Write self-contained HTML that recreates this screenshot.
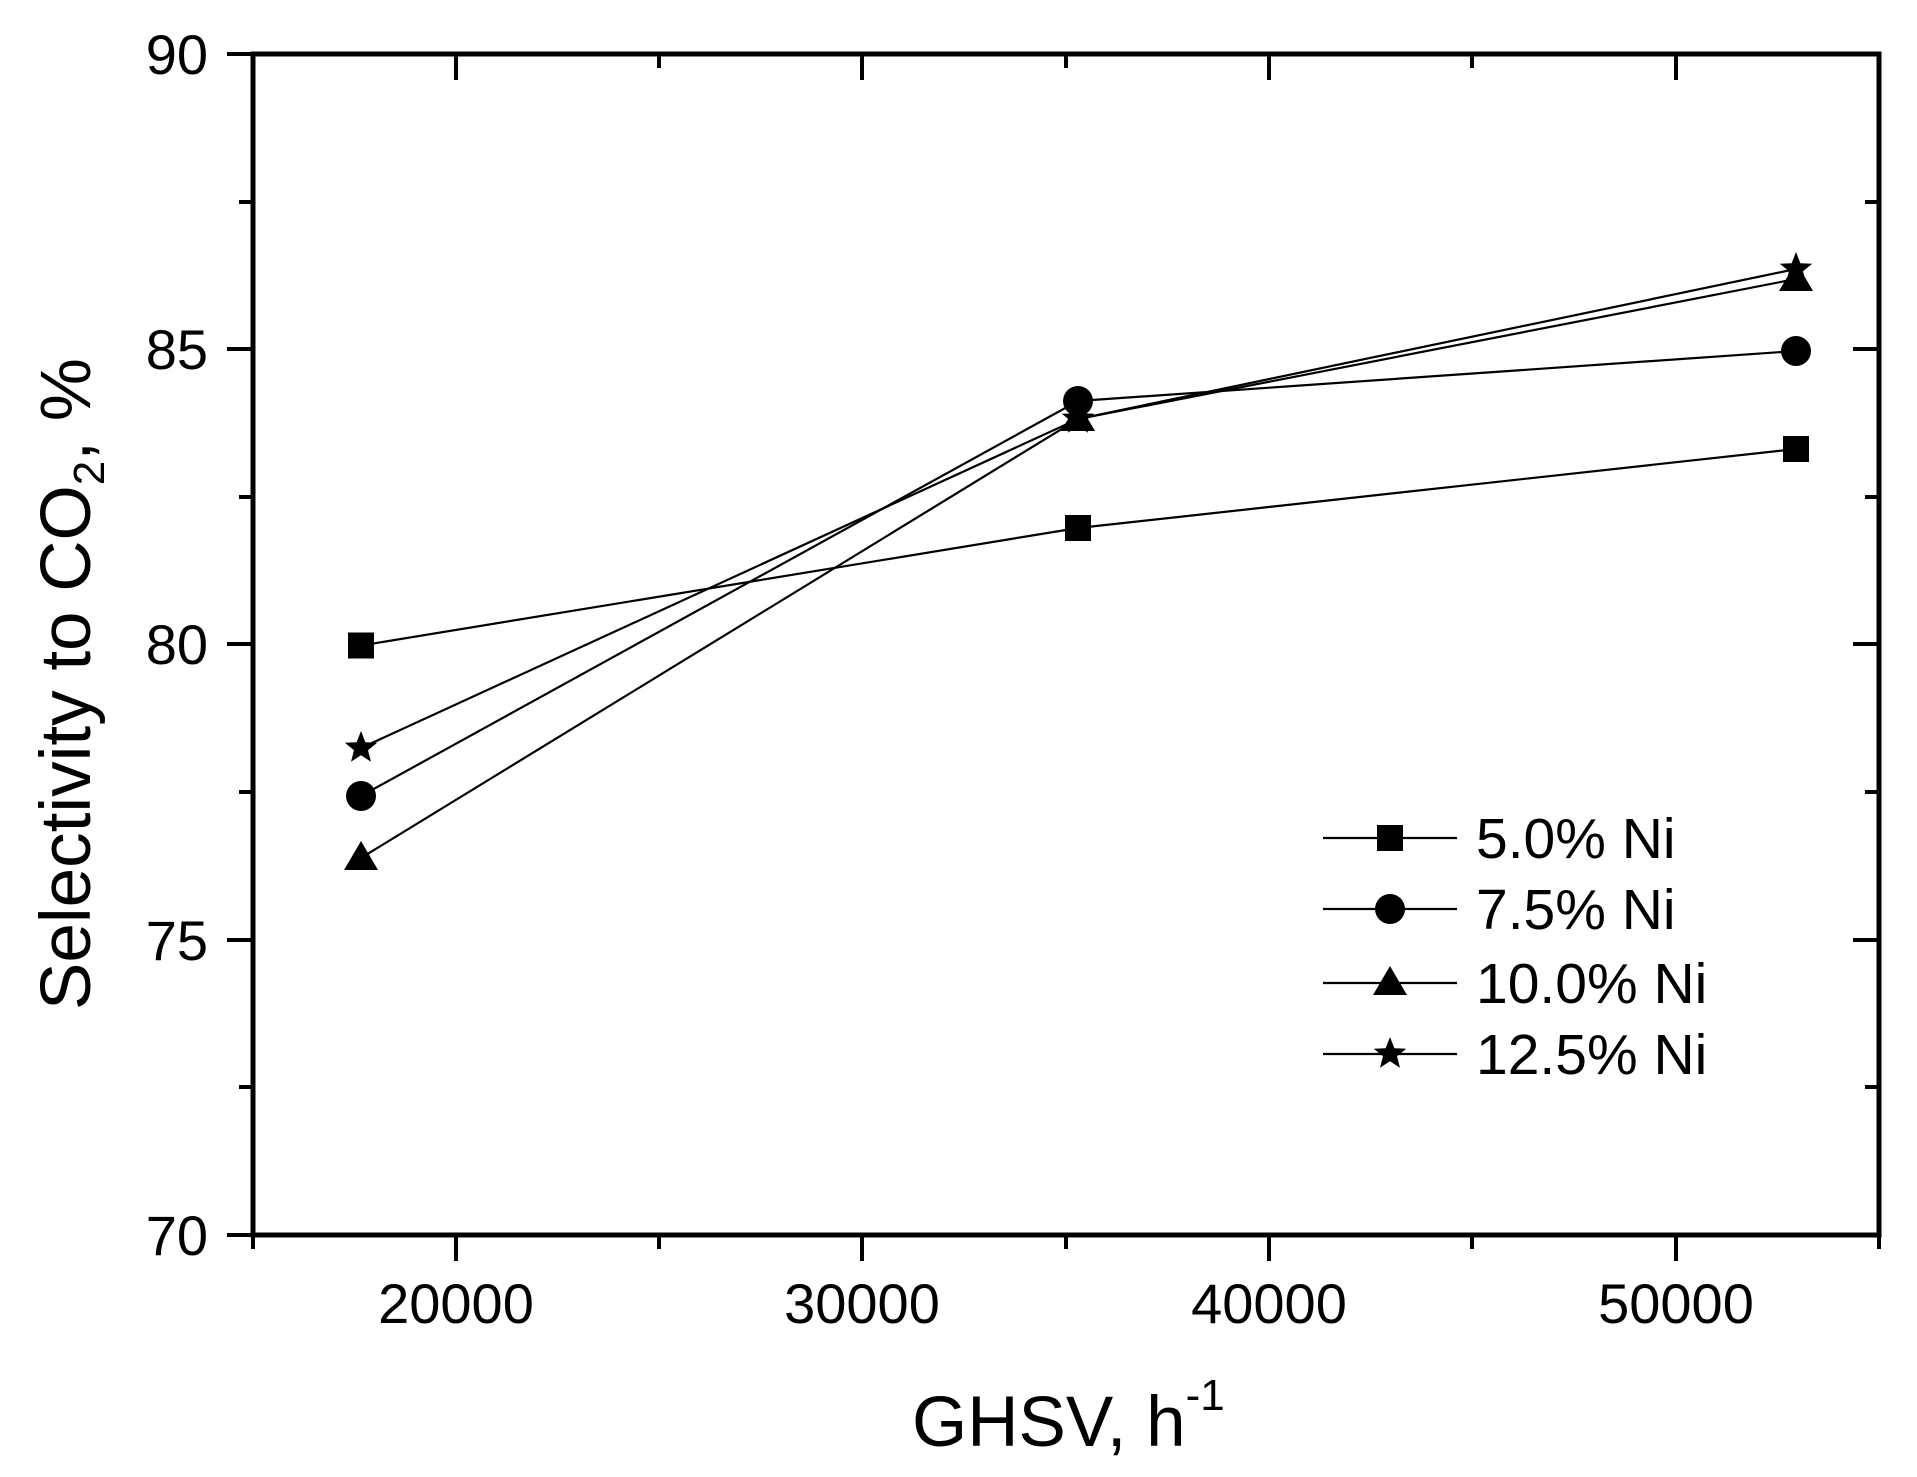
<!DOCTYPE html>
<html><head><meta charset="utf-8"><style>html,body{margin:0;padding:0;background:#fff}svg{display:block}</style></head>
<body>
<svg width="1917" height="1477" viewBox="0 0 1917 1477" xmlns="http://www.w3.org/2000/svg" font-family="Liberation Sans, Arial, sans-serif">
<defs>
<g id="sq"><rect x="-13" y="-13" width="26" height="26" fill="#000"/></g>
<g id="ci"><circle r="15" fill="#000"/></g>
<g id="tr"><polygon points="0,-17 17,12 -17,12" fill="#000"/></g>
<g id="st"><polygon points="0,-17 4.4,-5.8 16.2,-5.3 7,2.2 10,13.8 0,7.2 -10,13.8 -7,2.2 -16.2,-5.3 -4.4,-5.8" fill="#000"/></g>
</defs>
<g stroke="#000" stroke-width="2.2" fill="none">
<polyline points="361,645.5 1078,528 1796,449"/>
<polyline points="361,796 1078,401 1796,351"/>
<polyline points="361,858 1078,419 1796,279"/>
<polyline points="361,748 1078,419 1796,269"/>
</g>
<use href="#sq" x="361" y="645.5"/><use href="#sq" x="1078" y="528"/><use href="#sq" x="1796" y="449"/>
<use href="#ci" x="361" y="796"/><use href="#ci" x="1078" y="401"/><use href="#ci" x="1796" y="351"/>
<use href="#tr" x="361" y="858"/><use href="#tr" x="1078" y="419"/><use href="#tr" x="1796" y="279"/>
<use href="#st" x="361" y="748"/><use href="#st" x="1078" y="419"/><use href="#st" x="1796" y="269"/>
<!-- axes -->
<g stroke="#000" stroke-width="5" fill="none" stroke-linecap="square">
<rect x="253" y="54" width="1626" height="1181"/>
</g>
<g stroke="#000" stroke-width="4">
<!-- left ticks major -->
<line x1="227" y1="54" x2="253" y2="54"/><line x1="227" y1="349" x2="253" y2="349"/><line x1="227" y1="644" x2="253" y2="644"/><line x1="227" y1="940" x2="253" y2="940"/><line x1="227" y1="1235" x2="253" y2="1235"/>
<line x1="239" y1="202" x2="253" y2="202"/><line x1="239" y1="497" x2="253" y2="497"/><line x1="239" y1="792" x2="253" y2="792"/><line x1="239" y1="1087" x2="253" y2="1087"/>
<!-- right ticks inward -->
<line x1="1853" y1="349" x2="1879" y2="349"/><line x1="1853" y1="644" x2="1879" y2="644"/><line x1="1853" y1="940" x2="1879" y2="940"/>
<line x1="1865" y1="202" x2="1879" y2="202"/><line x1="1865" y1="497" x2="1879" y2="497"/><line x1="1865" y1="792" x2="1879" y2="792"/><line x1="1865" y1="1087" x2="1879" y2="1087"/>
<!-- bottom ticks -->
<line x1="456" y1="1235" x2="456" y2="1261"/><line x1="862" y1="1235" x2="862" y2="1261"/><line x1="1269" y1="1235" x2="1269" y2="1261"/><line x1="1676" y1="1235" x2="1676" y2="1261"/>
<line x1="253" y1="1235" x2="253" y2="1249"/><line x1="659" y1="1235" x2="659" y2="1249"/><line x1="1066" y1="1235" x2="1066" y2="1249"/><line x1="1472" y1="1235" x2="1472" y2="1249"/><line x1="1879" y1="1235" x2="1879" y2="1249"/>
<!-- top ticks inward -->
<line x1="456" y1="54" x2="456" y2="80"/><line x1="862" y1="54" x2="862" y2="80"/><line x1="1269" y1="54" x2="1269" y2="80"/><line x1="1676" y1="54" x2="1676" y2="80"/>
<line x1="659" y1="54" x2="659" y2="68"/><line x1="1066" y1="54" x2="1066" y2="68"/><line x1="1472" y1="54" x2="1472" y2="68"/>
</g>
<g font-size="56" fill="#000" text-anchor="end">
<text x="208" y="74">90</text><text x="208" y="369">85</text><text x="208" y="664">80</text><text x="208" y="960">75</text><text x="208" y="1255">70</text>
</g>
<g font-size="56" fill="#000" text-anchor="middle">
<text x="456" y="1323">20000</text><text x="862" y="1323">30000</text><text x="1269" y="1323">40000</text><text x="1676" y="1323">50000</text>
</g>
<text x="912" y="1446" font-size="71" fill="#000">GHSV, h<tspan font-size="44" dy="-36">-1</tspan></text>
<text transform="translate(90,1010) rotate(-90)" font-size="71" fill="#000">Selectivity to CO<tspan font-size="44" dy="14">2</tspan><tspan dy="-14">, %</tspan></text>
<!-- legend -->
<g stroke="#000" stroke-width="2.2">
<line x1="1323" y1="838" x2="1457" y2="838"/><line x1="1323" y1="909" x2="1457" y2="909"/><line x1="1323" y1="983" x2="1457" y2="983"/><line x1="1323" y1="1054" x2="1457" y2="1054"/>
</g>
<use href="#sq" x="1390" y="838"/><use href="#ci" x="1390" y="909"/><use href="#tr" x="1390" y="983"/><use href="#st" x="1390" y="1054"/>
<g font-size="57" fill="#000">
<text x="1476" y="858">5.0% Ni</text><text x="1476" y="929">7.5% Ni</text><text x="1476" y="1003">10.0% Ni</text><text x="1476" y="1074">12.5% Ni</text>
</g>
</svg>
</body></html>
